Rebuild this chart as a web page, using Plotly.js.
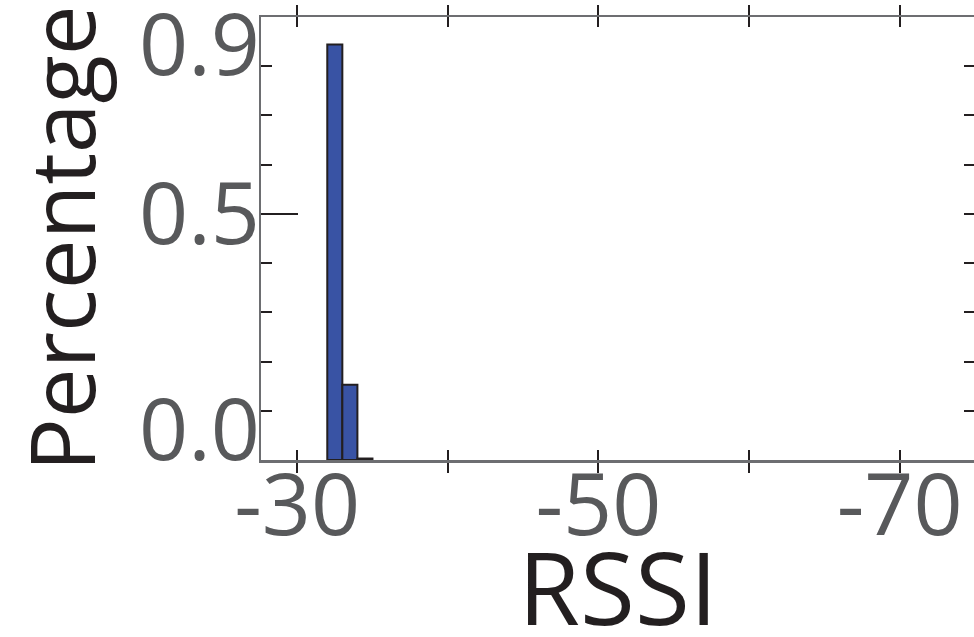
<!DOCTYPE html>
<html>
<head>
<meta charset="utf-8">
<script src="https://cdn.plot.ly/plotly-3.0.1.min.js"></script>
<style>
  html, body { margin: 0; padding: 0; overflow: hidden; background: #fff; }
  #chart { width: 976px; height: 654px; }
</style>
</head>
<body>
<div id="chart"></div>
<script>
// ---- data ----
const binCenters = [-32.5, -33.5, -34.5];   // RSSI bin centres (dBm), bin width 1
const binWidth = 1;
const percentage = [0.844, 0.153, 0.003];   // fraction of samples per bin
const xTickVals = [-30, -40, -50, -60, -70];
const xTickText = ['-30', '', '-50', '', '-70'];
const yTickVals = [0, 0.1, 0.2, 0.3, 0.4, 0.5, 0.6, 0.7, 0.8, 0.9];
const yLabelLow = ['0.0'];
const yLabelMid = ['0.5'];
const yLabelHigh = ['0.9'];

const FONT = '"Open Sans", "Noto Sans", sans-serif';
const LABEL_GREY = '#58595b';
const DARK = '#231f20';
const FRAME = '#6d6e71';
const Y_RANGE = [0, 0.9];

const traces = [{
  type: 'bar',
  x: binCenters,
  y: percentage,
  width: binCenters.map(() => binWidth),
  marker: { color: '#3953a4', line: { color: DARK, width: 2 } },
  hoverinfo: 'x+y',
  showlegend: false
}];
// empty traces so the label-only overlay axes get drawn
['y2', 'y3', 'y4'].forEach(ax => traces.push({
  type: 'scatter', mode: 'markers', x: [], y: [], yaxis: ax, showlegend: false, hoverinfo: 'skip'
}));

const tickFont = { family: FONT, size: 86, color: LABEL_GREY };

const layout = {
  width: 976,
  height: 654,
  margin: { l: 261, r: 1, t: 17, b: 194 },
  paper_bgcolor: '#ffffff',
  plot_bgcolor: '#ffffff',
  bargap: 0,
  xaxis: {
    range: [-27.6, -75],
    tickmode: 'array',
    tickvals: xTickVals,
    ticktext: xTickText,
    ticks: 'inside',
    ticklen: 10,
    tickwidth: 2,
    tickcolor: DARK,
    showline: true,
    linecolor: FRAME,
    linewidth: 2.5,
    mirror: 'allticks',
    showgrid: false,
    zeroline: false,
    tickfont: tickFont,
    ticklabelstandoff: -31,
    ticklabeloverflow: 'allow',
    title: { text: 'RSSI', font: { family: FONT, size: 100, color: DARK }, standoff: 43 }
  },
  yaxis: {
    range: Y_RANGE,
    tickmode: 'array',
    tickvals: yTickVals,
    ticktext: yTickVals.map(() => ''),
    ticks: 'inside',
    ticklen: 11,
    tickwidth: 2,
    tickcolor: DARK,
    showline: true,
    linecolor: FRAME,
    linewidth: 2.5,
    mirror: 'allticks',
    showgrid: false,
    zeroline: false,
    tickfont: tickFont,
    title: { text: 'Percentage', font: { family: FONT, size: 89, color: DARK }, standoff: 155 }
  },
  yaxis2: {
    overlaying: 'y', side: 'left', range: Y_RANGE,
    tickmode: 'array', tickvals: [0.5], ticktext: yLabelMid,
    ticks: 'inside', ticklen: 37, tickwidth: 2, tickcolor: DARK,
    showline: false, showgrid: false, zeroline: false,
    tickfont: tickFont, ticklabeloverflow: 'allow'
  },
  yaxis3: {
    overlaying: 'y', side: 'left', range: Y_RANGE,
    tickmode: 'array', tickvals: [0], ticktext: yLabelLow,
    ticks: '', showline: false, showgrid: false, zeroline: false,
    tickfont: tickFont, ticklabelshift: -30, ticklabeloverflow: 'allow'
  },
  yaxis4: {
    overlaying: 'y', side: 'left', range: Y_RANGE,
    tickmode: 'array', tickvals: [0.9], ticktext: yLabelHigh,
    ticks: '', showline: false, showgrid: false, zeroline: false,
    tickfont: tickFont, ticklabelshift: 28, ticklabeloverflow: 'allow'
  }
};

Plotly.newPlot('chart', traces, layout, { staticPlot: true, displayModeBar: false });
</script>
</body>
</html>
